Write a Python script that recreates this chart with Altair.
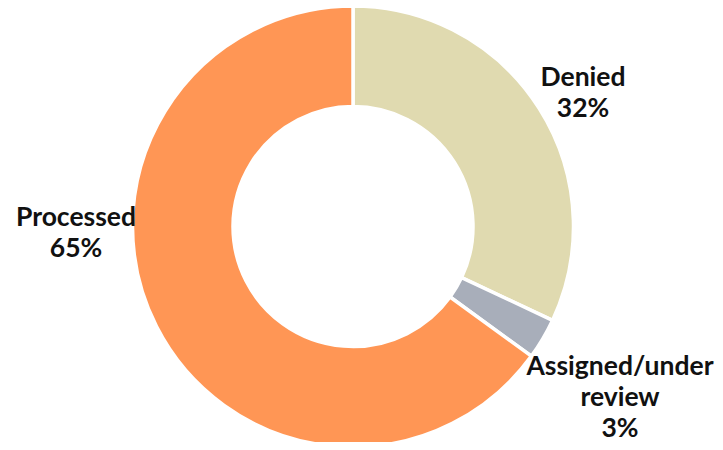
import altair as alt
import pandas as pd

categories = ["Denied", "Assigned/under review", "Processed"]
label_lines = [["Denied"], ["Assigned/under", "review"], ["Processed"]]
values = [32, 3, 65]
colors = ["#E0DAB0", "#A8AEBA", "#FF9655"]

# label layout (pixel positions of first line inside the plot area)
label_x = [575, 612, 68]
label_y = [70, 359, 210]

W, H = 707, 434
CX, CY = 345, 218.5

df = pd.DataFrame({"category": categories, "value": values, "order": [0, 1, 2]})
lab = pd.DataFrame({
    "text": [lines + [f"{v}%"] for lines, v in zip(label_lines, values)],
    "lx": label_x,
    "ly": label_y,
})

arcs = alt.Chart(df).mark_arc(
    outerRadius=220.5, innerRadius=120, stroke="white", strokeWidth=3.5
).encode(
    theta=alt.Theta("value:Q", stack=True),
    order=alt.Order("order:Q"),
    color=alt.Color("category:N", scale=alt.Scale(domain=categories, range=colors), legend=None),
    x=alt.value(CX),
    y=alt.value(CY),
)

labels = alt.Chart(lab).mark_text(
    font="Lato", fontWeight="bold", fontSize=26.5, lineHeight=31,
    align="center", baseline="middle", color="#111111"
).encode(
    x=alt.X("lx:Q", scale=None),
    y=alt.Y("ly:Q", scale=None),
    text="text",
)

chart = alt.layer(arcs, labels).properties(
    width=W, height=H, padding=0, autosize=alt.AutoSizeParams(type="none")
).configure_view(stroke=None)

chart.save("out.html", embed_options={"renderer": "svg", "actions": False})
